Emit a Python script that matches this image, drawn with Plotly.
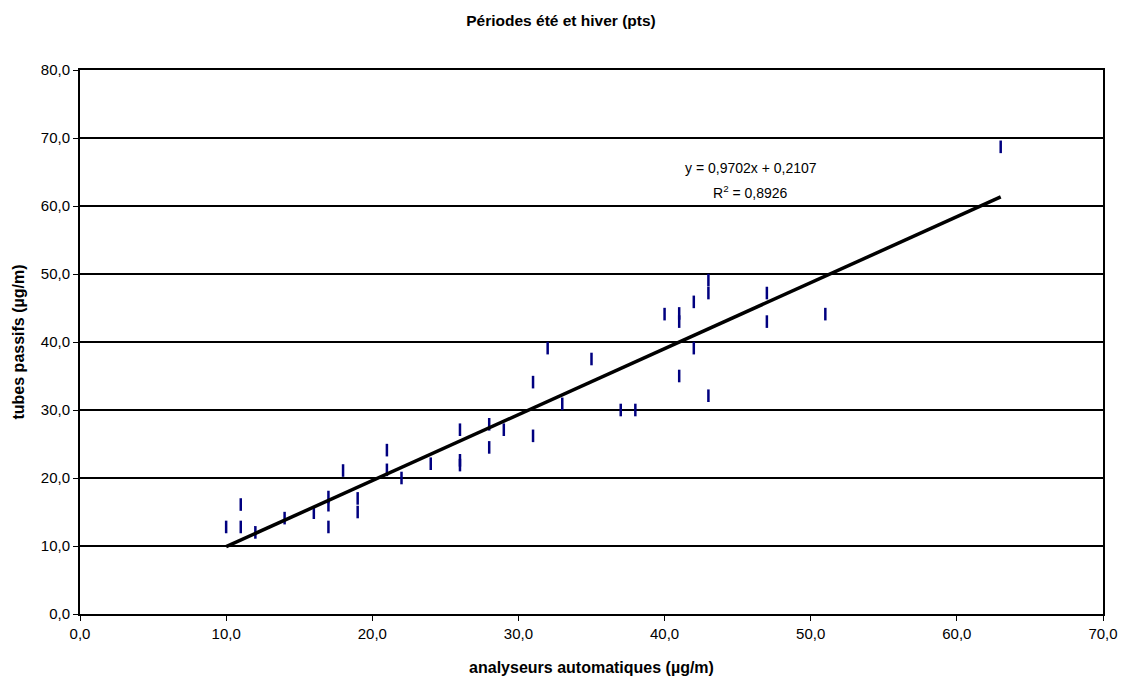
import plotly.graph_objects as go

# Data
x_auto = [10, 11, 11, 12, 14, 16, 17, 17, 17, 18, 19, 19, 21, 21, 22, 24,
          26, 26, 26, 28, 28, 29, 31, 31, 32, 33, 35, 37, 38,
          40, 41, 41, 41, 42, 42, 43, 43, 43, 47, 47, 51, 63]
y_tubes = [12.8, 12.8, 16.1, 12.0, 14.1, 14.9, 17.2, 16.0, 12.8, 21.1, 17.0, 15.0, 24.1, 21.2, 20.0, 22.1,
           27.1, 22.6, 21.9, 27.9, 24.5, 27.1, 34.1, 26.2, 39.1, 30.9, 37.5, 30.0, 30.0,
           44.1, 44.2, 43.0, 35.0, 45.9, 39.1, 49.1, 47.2, 32.1, 47.2, 43.0, 44.1, 68.7]

slope = 0.9702
intercept = 0.2107
r2 = 0.8926
trend_x = [10, 63]
trend_y = [slope * v + intercept for v in trend_x]

tick_vals_x = [0, 10, 20, 30, 40, 50, 60, 70]
tick_vals_y = [0, 10, 20, 30, 40, 50, 60, 70, 80]
tick_text_x = [f"{v:.1f}".replace(".", ",") for v in tick_vals_x]
tick_text_y = [f"{v:.1f}".replace(".", ",") for v in tick_vals_y]

font_family = "Liberation Sans, Arial, sans-serif"

fig = go.Figure()
fig.add_trace(go.Scatter(
    x=x_auto, y=y_tubes, mode="markers",
    marker=dict(symbol="line-ns", size=9, line=dict(width=2.5, color="#000080"), color="#000080"),
    showlegend=False, hoverinfo="x+y"))
fig.add_trace(go.Scatter(
    x=trend_x, y=trend_y, mode="lines",
    line=dict(color="black", width=3.5), showlegend=False))

fig.add_annotation(x=45.9, y=65.6, xref="x", yref="y",
                   text=f"y = {slope:.4f}x + {intercept:.4f}".replace(".", ","),
                   showarrow=False, font=dict(family=font_family, size=14, color="black"))
fig.add_annotation(x=45.9, y=62.1, xref="x", yref="y",
                   text=f"R<sup>2</sup> = {r2:.4f}".replace(".", ","),
                   showarrow=False, font=dict(family=font_family, size=14, color="black"))

fig.update_layout(
    width=1122, height=679,
    margin=dict(l=80, r=19, t=70, b=65),
    paper_bgcolor="white", plot_bgcolor="white",
    font=dict(family=font_family, size=15, color="black"),
    title=dict(text="<b>Périodes été et hiver (pts)</b>", x=0.5, xanchor="center",
               y=0.970, yanchor="middle", font=dict(family=font_family, size=15.5, color="black")),
    xaxis=dict(range=[0, 70], tickvals=tick_vals_x, ticktext=tick_text_x, automargin=False,
               showgrid=False, zeroline=False, showline=True, linecolor="black", linewidth=2,
               mirror=True, ticks="outside", ticklen=5, tickcolor="black",
               tickfont=dict(family=font_family, size=15),
               title=dict(text="<b>analyseurs automatiques (µg/m)</b>", standoff=21,
                          font=dict(family=font_family, size=16))),
    yaxis=dict(range=[0, 80], tickvals=tick_vals_y, ticktext=tick_text_y, automargin=False,
               showgrid=True, gridcolor="black", gridwidth=1.5, zeroline=False,
               showline=True, linecolor="black", linewidth=2, mirror=True,
               ticks="outside", ticklen=5, tickcolor="black",
               tickfont=dict(family=font_family, size=15),
               title=dict(text="<b>tubes passifs (µg/m)</b>", standoff=12,
                          font=dict(family=font_family, size=16))),
)

fig.write_html("out.html")
